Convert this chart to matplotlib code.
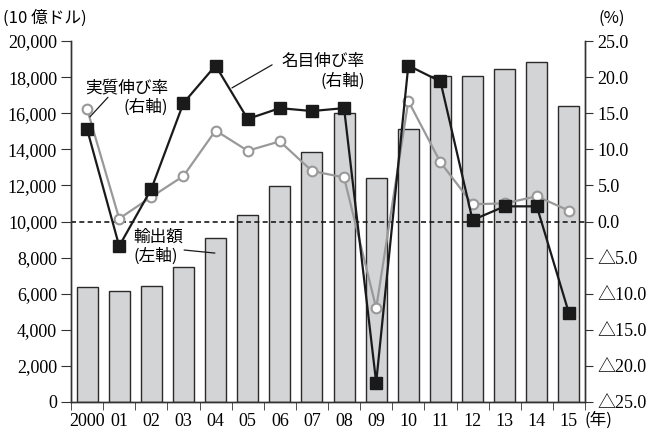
import numpy as np
import matplotlib
matplotlib.use('Agg')
import matplotlib.pyplot as plt
from matplotlib.ticker import FixedLocator, FuncFormatter

plt.rcParams['font.family'] = ['Liberation Serif', 'Noto Sans CJK JP', 'DejaVu Sans']

years = ['2000', '01', '02', '03', '04', '05', '06', '07',
         '08', '09', '10', '11', '12', '13', '14', '15']
exports = [6350, 6150, 6410, 7460, 9070, 10360, 11980, 13830,
           15990, 12430, 15120, 18040, 18080, 18450, 18820, 16410]
nominal = [12.8, -3.4, 4.5, 16.4, 21.6, 14.2, 15.7, 15.3,
           15.7, -22.3, 21.6, 19.4, 0.2, 2.1, 2.1, -12.7]
real = [15.6, 0.4, 3.4, 6.3, 12.6, 9.8, 11.1, 7.0,
        6.1, -12.0, 16.7, 8.2, 2.4, 2.5, 3.5, 1.5]

x = np.arange(len(years))
jp = ['Noto Sans CJK JP']

fig = plt.figure(figsize=(6.62, 4.32), dpi=100)
ax = fig.add_axes([71 / 662, 1 - 402 / 432, 514 / 662, 361 / 432])
ax2 = ax.twinx()

ax.bar(x, exports, width=0.65, color='#d3d4d5', edgecolor='#2a2a2a', linewidth=1.0, zorder=2)
ax.set_xlim(-0.5, len(years) - 0.5)
ax.set_ylim(0, 20000)
ax.set_yticks(np.arange(0, 20001, 2000))
ax.yaxis.set_major_formatter(FuncFormatter(lambda v, p: f'{int(v):,}'))

ax.xaxis.set_major_locator(FixedLocator(x))
ax.set_xticklabels(years)
ax.xaxis.set_minor_locator(FixedLocator(np.arange(-0.5, len(years), 1)))
ax.tick_params(axis='x', which='major', length=0, pad=8, labelsize=13)
ax.tick_params(axis='x', which='minor', length=6, direction='out', color='#333333')
ax.tick_params(axis='y', length=7, direction='out', labelsize=13, color='#333333', pad=3)

ax2.plot(x, real, color='#999999', lw=1.6, marker='o', ms=7,
         mfc='white', mec='#999999', mew=1.5, zorder=3)
ax2.plot(x, nominal, color='#1a1a1a', lw=1.6, marker='s', ms=8.5,
         mfc='#1a1a1a', mec='#1a1a1a', zorder=4)
ax2.axhline(0, color='#1a1a1a', lw=1.2, ls=(0, (3, 2)), zorder=1)
ax2.set_ylim(-25, 25)
ax2.set_yticks(np.arange(-25, 25.1, 5))
ax2.yaxis.set_major_formatter(FuncFormatter(
    lambda v, p: f'{v:.1f}' if v >= 0 else f'△{abs(v):.1f}'))
ax2.tick_params(axis='y', length=6, direction='out', labelsize=13, color='#333333', pad=3)

for a in (ax, ax2):
    a.spines['top'].set_visible(False)
    for s in ('left', 'right', 'bottom'):
        a.spines[s].set_color('#333333')
        a.spines[s].set_linewidth(1.0)
ax2.set_zorder(ax.get_zorder() + 1)
ax2.patch.set_visible(False)

fig.text(3 / 662, 1 - 18 / 432, '(10 億ドル)', fontsize=12, va='center', ha='left', family=jp)
fig.text(598 / 662, 1 - 18 / 432, '(%)', fontsize=12, va='center', ha='left', family=jp)
fig.text(585 / 662, 1 - 420 / 432, '(年)', fontsize=12, va='center', ha='left', family=jp)

# labels with leader lines
leader = dict(arrowstyle='-', color='#1a1a1a', lw=0.9, shrinkA=0, shrinkB=0)
ax2.text(2.52, 17.2, '実質伸び率\n(右軸)', fontsize=12, ha='right', va='center',
         multialignment='right', linespacing=1.15, family=jp, zorder=5)
ax2.annotate('', xy=(0.09, 14.5), xytext=(0.65, 17.2), arrowprops=leader)

ax2.text(8.65, 20.8, '名目伸び率\n(右軸)', fontsize=12, ha='right', va='center',
         multialignment='right', linespacing=1.15, family=jp, zorder=5)
ax2.annotate('', xy=(4.51, 18.5), xytext=(5.76, 21.7), arrowprops=leader)

ax.text(1.43, 8600, '輸出額\n(左軸)', fontsize=12, ha='left', va='center',
        linespacing=1.15, family=jp, zorder=5)
ax.annotate('', xy=(3.98, 8250), xytext=(3.02, 8420), arrowprops=leader)

fig.savefig('out.png', dpi=100)
